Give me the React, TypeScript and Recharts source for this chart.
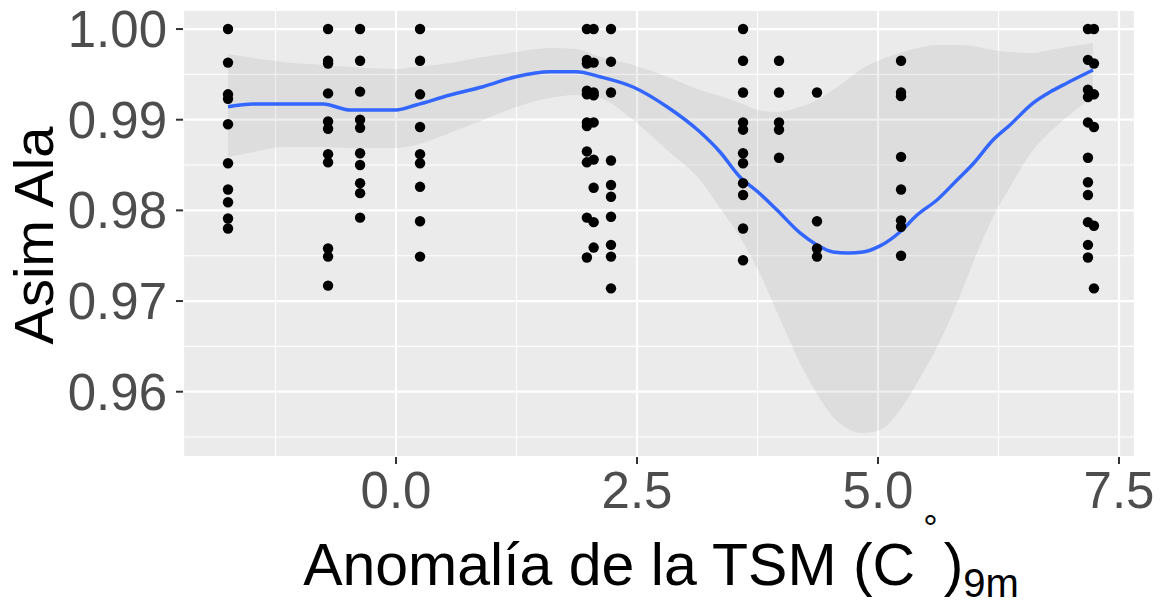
import { Area, CartesianGrid, ComposedChart, Line, Scatter, XAxis, YAxis } from "recharts";

// point columns (x = SST anomaly, y = wing asymmetry)
const colX = [-1.743, -0.705, -0.373, 0.249, 1.98, 2.05, 2.23, 3.6, 3.973, 4.367, 5.239, 7.178, 7.24];
const colY = [
  [1.0, 0.9963, 0.9928, 0.9923, 0.9895, 0.9852, 0.9823, 0.9809, 0.9791, 0.978],
  [1.0, 0.9965, 0.9962, 0.9929, 0.9898, 0.989, 0.9862, 0.9853, 0.9758, 0.9749, 0.9717],
  [1.0, 0.9965, 0.9931, 0.99, 0.9891, 0.9863, 0.985, 0.983, 0.9819, 0.9792],
  [1.0, 0.9965, 0.9928, 0.9892, 0.9862, 0.9852, 0.9826, 0.9788, 0.9749],
  [1.0, 0.9966, 0.9962, 0.9932, 0.9928, 0.9897, 0.9893, 0.9865, 0.9853, 0.9792, 0.9748],
  [1.0, 0.9963, 0.993, 0.9927, 0.9897, 0.9856, 0.9825, 0.9787, 0.9759],
  [1.0, 0.9964, 0.993, 0.9855, 0.9828, 0.9815, 0.9793, 0.9762, 0.9749, 0.9714],
  [1.0, 0.9965, 0.993, 0.9897, 0.9889, 0.9863, 0.9852, 0.983, 0.9817, 0.978, 0.9745],
  [0.9965, 0.993, 0.9897, 0.9889, 0.9858],
  [0.993, 0.9788, 0.9758, 0.9749],
  [0.9965, 0.993, 0.9926, 0.9859, 0.9823, 0.9789, 0.9782, 0.975],
  [1.0, 0.9966, 0.9933, 0.9925, 0.9897, 0.9858, 0.9831, 0.9817, 0.9787, 0.9762, 0.9748],
  [1.0, 0.9962, 0.9928, 0.9892, 0.9783, 0.9714],
];

// loess fit + confidence band, sampled along x
const smoothX = [
  -1.743, -1.483, -1.172, -0.757, -0.477, 0, 0.207, 0.56, 0.902, 1.245, 1.598, 1.867, 2.116, 2.459,
  2.811, 3.154, 3.361, 3.568, 3.755, 3.952, 4.191, 4.367, 4.533, 4.689, 4.844, 5.021, 5.228, 5.405,
  5.612, 5.82, 5.985, 6.193, 6.369, 6.608, 6.784, 6.961, 7.23,
];
const fitY = [
  0.99143, 0.99173, 0.99173, 0.99173, 0.99107, 0.99107, 0.99162, 0.99272, 0.99364, 0.99474, 0.99529,
  0.99529, 0.99474, 0.99361, 0.99143, 0.98864, 0.98644, 0.98368, 0.98203, 0.98004, 0.97751, 0.97619,
  0.97541, 0.9753, 0.97541, 0.97608, 0.97762, 0.97949, 0.98115, 0.98335, 0.98512, 0.98776, 0.98942,
  0.99184, 0.99305, 0.99405, 0.99548,
];
const lowY = [
  0.98589, 0.98644, 0.98699, 0.98699, 0.98688, 0.98688, 0.98721, 0.98853, 0.98997, 0.9914, 0.99239,
  0.99272, 0.99239, 0.98997, 0.98666, 0.98335, 0.98026, 0.97707, 0.97343, 0.9688, 0.96318, 0.95976,
  0.95722, 0.9559, 0.95546, 0.95579, 0.95799, 0.96097, 0.96494, 0.96979, 0.9742, 0.97927, 0.98258,
  0.98666, 0.98864, 0.9903, 0.9925,
];
const highY = [
  0.99724, 0.9968, 0.99636, 0.99603, 0.99581, 0.99559, 0.99581, 0.99625, 0.99691, 0.99746, 0.99791,
  0.9978, 0.99695, 0.99603, 0.99474, 0.99327, 0.99261, 0.99184, 0.99107, 0.99085, 0.9914, 0.99217,
  0.99327, 0.99449, 0.9957, 0.99658, 0.99735, 0.99791, 0.99824, 0.99824, 0.99813, 0.99768, 0.99746,
  0.99735, 0.99768, 0.99802, 0.99846,
];

const xTicks = [0, 2.5, 5, 7.5];
const yTicks = [0.96, 0.97, 0.98, 0.99, 1.0];
const xMinor = [-1.25, 1.25, 3.75, 6.25];
const yMinor = [0.955, 0.965, 0.975, 0.985, 0.995];

const points = colX.flatMap((x, i) => colY[i].map((y) => ({ x, y })));
const smooth = smoothX.map((x, i) => ({ x, fit: fitY[i], band: [lowY[i], highY[i]] }));

const FONT = "'Liberation Sans', Arial, sans-serif";

function XTitle({ viewBox }: any) {
  const cx = viewBox.x + viewBox.width / 2 + 2;
  const y = viewBox.y + 128;
  return (
    <text x={cx} y={y} textAnchor="middle" fontSize={59} fill="#000" fontFamily={FONT}>
      Anomalía de la TSM (C
      <tspan fontSize={36} dx={8} dy={-44}>°</tspan>
      <tspan dx={6} dy={44}>)</tspan>
      <tspan fontSize={40} dy={12}>9m</tspan>
    </text>
  );
}

function YTitle({ viewBox }: any) {
  const x = viewBox.x + 53;
  const y = viewBox.y + viewBox.height / 2 + 2;
  return (
    <text
      x={x}
      y={y}
      textAnchor="middle"
      fontSize={56}
      fill="#000"
      fontFamily={FONT}
      transform={`rotate(-90, ${x}, ${y})`}
    >
      Asim Ala
    </text>
  );
}

const dot = (props: any) => <circle cx={props.cx} cy={props.cy} r={5.2} fill="#000" />;

export default function App() {
  return (
    <div>
      <style>{`body{margin:0;background:#fff}`}</style>
      <ComposedChart
        width={1164}
        height={606}
        data={smooth}
        margin={{ top: 10, right: 29, bottom: 0, left: 0 }}
      >
        <CartesianGrid fill="#EBEBEB" stroke="#FFFFFF" strokeWidth={2.2} />
        <CartesianGrid
          stroke="#FFFFFF"
          strokeWidth={1.1}
          verticalValues={xMinor}
          horizontalValues={yMinor}
        />
        <XAxis
          type="number"
          dataKey="x"
          domain={[-2.21, 7.666]}
          allowDataOverflow
          ticks={xTicks}
          tickFormatter={(v) => Number(v).toFixed(1)}
          tick={{ fontSize: 51, fill: "#4D4D4D", fontFamily: FONT }}
          tickSize={7}
          tickMargin={8}
          tickLine={{ stroke: "#333333", strokeWidth: 2 }}
          axisLine={false}
          height={149}
          label={(p: any) => <XTitle {...p} />}
        />
        <YAxis
          type="number"
          domain={[0.9528, 1.0021]}
          allowDataOverflow
          ticks={yTicks}
          tickFormatter={(v) => Number(v).toFixed(2)}
          tick={{ fontSize: 51, fill: "#4D4D4D", fontFamily: FONT }}
          tickSize={7}
          tickMargin={9}
          tickLine={{ stroke: "#333333", strokeWidth: 2 }}
          axisLine={false}
          width={183}
          label={(p: any) => <YTitle {...p} />}
        />
        <Area
          type="monotone"
          dataKey="band"
          stroke="none"
          fill="#999999"
          fillOpacity={0.17}
          isAnimationActive={false}
        />
        <Line
          type="monotone"
          dataKey="fit"
          stroke="#3366FF"
          strokeWidth={3.5}
          dot={false}
          activeDot={false}
          isAnimationActive={false}
        />
        <Scatter data={points} dataKey="y" shape={dot} isAnimationActive={false} />
      </ComposedChart>
    </div>
  );
}
